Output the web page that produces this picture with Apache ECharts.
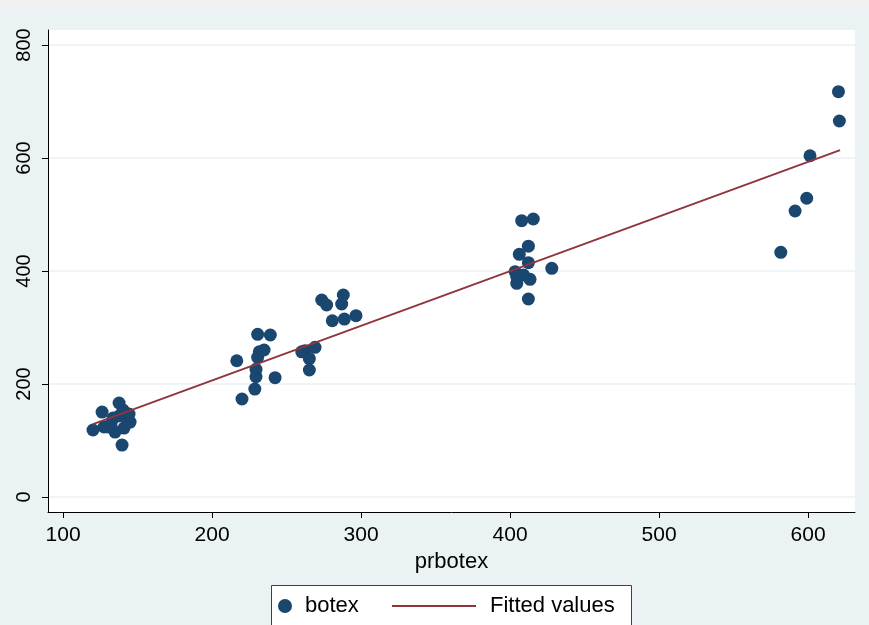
<!DOCTYPE html>
<html>
<head>
<meta charset="utf-8">
<script src="https://cdn.jsdelivr.net/npm/echarts@6/dist/echarts.min.js"></script>
<style>html,body{margin:0;padding:0;background:#eaf2f3;}#c{width:869px;height:625px;}</style>
</head>
<body>
<div id="c"></div>
<script>
// observed data: prbotex (x) and botex (y)
const prbotex = [120.1,126.2,127.5,132.2,134.9,137.6,139.6,137.6,140.9,143.0,144.3,145.0,140.3,133.6,130.2,
  216.6,230.6,239.1,231.7,234.9,230.6,229.5,229.5,242.3,228.7,220.1,262.4,269.1,265.3,265.3,260.2,
  273.6,276.9,288.1,287.0,280.7,288.8,296.6,
  407.8,415.6,412.3,406.2,412.3,403.4,428.0,404.5,409.0,413.4,404.5,412.3,
  620.4,621.0,601.3,599.1,591.3,581.7];
const botex = [118.6,150.4,123.9,129.2,115.0,166.4,92.0,143.4,122.1,138.1,146.9,132.7,154.0,139.8,123.9,
  241.2,288.0,286.7,257.0,260.2,247.3,226.0,213.0,211.2,191.0,173.5,259.0,265.0,244.8,224.8,257.0,
  348.7,339.8,357.5,341.6,312.0,315.0,320.9,
  489.0,492.0,444.0,429.5,414.7,398.8,404.8,390.0,393.0,385.3,378.2,350.4,
  717.3,665.5,604.0,528.7,506.2,433.0];
// fitted line endpoints
const fittedX = [120.1, 621.5];
const fittedY = [129, 614];
const xTicks = [100, 200, 300, 400, 500, 600];
const yTicks = [0, 200, 400, 600, 800];

const scatterData = prbotex.map((x, i) => [x, botex[i]]);
const fitData = fittedX.map((x, i) => [x, fittedY[i]]);

const font = 'Liberation Sans, Arial, sans-serif';
const chart = echarts.init(document.getElementById('c'));
chart.setOption({
  backgroundColor: '#eaf2f3',
  animation: false,
  textStyle: { fontFamily: font },
  graphic: [
    { type: 'rect', left: 0, top: 0, shape: { width: 869, height: 7 }, style: { fill: '#f1f1f1' }, z: 0 },
    { type: 'rect', left: 271, top: 585, shape: { width: 360, height: 45 }, style: { fill: '#ffffff', stroke: '#404040', lineWidth: 1 }, z: 0 }
  ],
  grid: { left: 48, right: 14, top: 30, bottom: 113, show: true, backgroundColor: '#ffffff', borderWidth: 0 },
  xAxis: {
    type: 'value', min: 89.9, max: 631.5,
    name: 'prbotex', nameLocation: 'middle', nameGap: 38,
    nameTextStyle: { fontSize: 22, color: '#000', fontFamily: font },
    axisLine: { show: true, onZero: false, lineStyle: { color: '#000', width: 1 } },
    axisTick: { show: true, length: 6, customValues: xTicks, lineStyle: { color: '#000' } },
    axisLabel: { customValues: xTicks, fontSize: 21, color: '#000', margin: 13, fontFamily: font },
    splitLine: { show: false }
  },
  yAxis: {
    type: 'value', min: -26.5, max: 826.5,
    axisLine: { show: true, onZero: false, lineStyle: { color: '#000', width: 1 } },
    axisTick: { show: true, length: 6, customValues: yTicks, lineStyle: { color: '#000' } },
    axisLabel: { customValues: yTicks, fontSize: 20, color: '#000', rotate: 90, margin: 14, fontFamily: font },
    splitLine: { show: true, lineStyle: { color: '#eaf2f3', width: 1.5 } }
  },
  legend: [
    { data: [{ name: 'botex', icon: 'circle' }], left: 278, top: 595, padding: 0, itemWidth: 14, itemHeight: 14,
      textStyle: { fontSize: 22, color: '#000', fontFamily: font, padding: [0, 0, 0, 8] } },
    { data: [{ name: 'Fitted values', icon: 'rect' }], left: 392, top: 595, padding: 0, itemWidth: 84, itemHeight: 2,
      textStyle: { fontSize: 22, color: '#000', fontFamily: font, padding: [0, 0, 0, 9] } }
  ],
  series: [
    { name: 'botex', type: 'scatter', data: scatterData, symbol: 'circle', symbolSize: 13,
      itemStyle: { color: '#1a476f', opacity: 1 }, z: 3 },
    { name: 'Fitted values', type: 'line', data: fitData, symbol: 'none', showSymbol: false,
      lineStyle: { color: '#90353b', width: 2 }, itemStyle: { color: '#90353b' }, z: 4 }
  ]
});
</script>
</body>
</html>
